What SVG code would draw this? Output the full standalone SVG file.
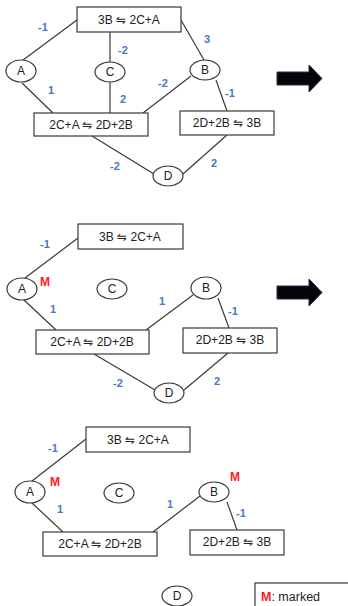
<svg xmlns="http://www.w3.org/2000/svg" width="348" height="606" viewBox="0 0 348 606">
<style>
.bg{fill:#fff}
.box{fill:#fff;stroke:#3a3a3a;stroke-width:1.2}
.nd{fill:#fff;stroke:#3a3a3a;stroke-width:1.2}
.t{font-family:"Liberation Sans","DejaVu Sans",sans-serif;font-size:12px;fill:#222;text-anchor:middle;dominant-baseline:central}
.w{font-family:"Liberation Sans","DejaVu Sans",sans-serif;font-size:11px;font-weight:bold;fill:#4a76c6;text-anchor:middle;dominant-baseline:central}
.m{font-family:"Liberation Sans","DejaVu Sans",sans-serif;font-size:12px;font-weight:bold;fill:#ff1a1a;text-anchor:middle;dominant-baseline:central}
.e{stroke:#3a3a3a;stroke-width:1.2;fill:none}
.arr{fill:#050505;stroke:#1f2d50;stroke-width:1}
</style>
<rect class="bg" x="0" y="0" width="348" height="606"/>

<!-- Panel 1 -->
<g id="p1-edges">
<line class="e" x1="77" y1="20" x2="23" y2="60"/>
<line class="e" x1="110" y1="32" x2="110" y2="62"/>
<line class="e" x1="181" y1="20" x2="204" y2="60"/>
<line class="e" x1="22" y1="83" x2="53" y2="113"/>
<line class="e" x1="110" y1="82" x2="110" y2="113"/>
<line class="e" x1="191" y1="76" x2="143" y2="113"/>
<line class="e" x1="216" y1="80" x2="227" y2="111"/>
<line class="e" x1="92" y1="136" x2="154" y2="174"/>
<line class="e" x1="227" y1="135" x2="183" y2="174"/>
</g>
<g id="p1-weights">
<text class="w" x="43" y="27">-1</text>
<text class="w" x="123" y="50">-2</text>
<text class="w" x="207" y="39">3</text>
<text class="w" x="51" y="90">1</text>
<text class="w" x="123" y="99">2</text>
<text class="w" x="163" y="83">-2</text>
<text class="w" x="230" y="93">-1</text>
<text class="w" x="115" y="166">-2</text>
<text class="w" x="214" y="163">2</text>
</g>
<g id="p1-r1"><rect class="box" x="77" y="7" width="104" height="25"/><text class="t" x="129" y="20">3B ⇋ 2C+A</text></g>
<g id="p1-A"><ellipse class="nd" cx="21" cy="71" rx="15" ry="11"/><text class="t" x="21" y="71">A</text></g>
<g id="p1-C"><ellipse class="nd" cx="110" cy="72" rx="15" ry="10"/><text class="t" x="110" y="72">C</text></g>
<g id="p1-B"><ellipse class="nd" cx="205" cy="70" rx="15" ry="10"/><text class="t" x="205" y="70">B</text></g>
<g id="p1-r2"><rect class="box" x="34" y="113" width="114" height="23"/><text class="t" x="91" y="125">2C+A ⇋ 2D+2B</text></g>
<g id="p1-r3"><rect class="box" x="180" y="111" width="94" height="24"/><text class="t" x="227" y="123">2D+2B ⇋ 3B</text></g>
<g id="p1-D"><ellipse class="nd" cx="168" cy="176" rx="15" ry="10"/><text class="t" x="168" y="176">D</text></g>
<g id="arrow1"><path class="arr" d="M277,72 L309,72 L309,65 L322,78.5 L309,92 L309,85 L277,85 Z"/></g>

<!-- Panel 2 -->
<g id="p2-edges">
<line class="e" x1="78" y1="238" x2="25" y2="278"/>
<line class="e" x1="24" y1="300" x2="56" y2="330"/>
<line class="e" x1="193" y1="295" x2="146" y2="330"/>
<line class="e" x1="218" y1="298" x2="229" y2="328"/>
<line class="e" x1="94" y1="354" x2="155" y2="390"/>
<line class="e" x1="228" y1="353" x2="184" y2="390"/>
</g>
<g id="p2-weights">
<text class="w" x="45" y="244">-1</text>
<text class="w" x="53" y="309">1</text>
<text class="w" x="162" y="301">1</text>
<text class="w" x="233" y="311">-1</text>
<text class="w" x="118" y="383">-2</text>
<text class="w" x="217" y="381">2</text>
</g>
<g id="p2-r1"><rect class="box" x="78" y="224" width="105" height="25"/><text class="t" x="130" y="237">3B ⇋ 2C+A</text></g>
<g id="p2-A"><ellipse class="nd" cx="22" cy="289" rx="15" ry="11"/><text class="t" x="22" y="289">A</text></g>
<text class="m" x="45" y="282">M</text>
<g id="p2-C"><ellipse class="nd" cx="112" cy="289" rx="15" ry="10"/><text class="t" x="112" y="289">C</text></g>
<g id="p2-B"><ellipse class="nd" cx="206" cy="288" rx="15" ry="11"/><text class="t" x="206" y="288">B</text></g>
<g id="p2-r2"><rect class="box" x="36" y="330" width="113" height="24"/><text class="t" x="92" y="342">2C+A ⇋ 2D+2B</text></g>
<g id="p2-r3"><rect class="box" x="183" y="328" width="94" height="25"/><text class="t" x="230" y="340">2D+2B ⇋ 3B</text></g>
<g id="p2-D"><ellipse class="nd" cx="169" cy="393" rx="15" ry="10"/><text class="t" x="169" y="393">D</text></g>
<g id="arrow2"><path class="arr" d="M277,286 L309,286 L309,279 L322,292.5 L309,306 L309,299 L277,299 Z"/></g>

<!-- Panel 3 -->
<g id="p3-edges">
<line class="e" x1="86" y1="439" x2="32" y2="481"/>
<line class="e" x1="32" y1="503" x2="63" y2="532"/>
<line class="e" x1="200" y1="496" x2="153" y2="532"/>
<line class="e" x1="227" y1="502" x2="237" y2="530"/>
</g>
<g id="p3-weights">
<text class="w" x="53" y="448">-1</text>
<text class="w" x="60" y="509">1</text>
<text class="w" x="170" y="504">1</text>
<text class="w" x="241" y="513">-1</text>
</g>
<g id="p3-r1"><rect class="box" x="86" y="427" width="104" height="25"/><text class="t" x="138" y="440">3B ⇋ 2C+A</text></g>
<g id="p3-A"><ellipse class="nd" cx="30" cy="492" rx="15" ry="11"/><text class="t" x="30" y="492">A</text></g>
<text class="m" x="55" y="482">M</text>
<g id="p3-C"><ellipse class="nd" cx="119" cy="493" rx="15" ry="10"/><text class="t" x="119" y="493">C</text></g>
<g id="p3-B"><ellipse class="nd" cx="214" cy="492" rx="15" ry="10"/><text class="t" x="214" y="492">B</text></g>
<text class="m" x="235" y="477">M</text>
<g id="p3-r2"><rect class="box" x="43" y="532" width="114" height="24"/><text class="t" x="100" y="544">2C+A ⇋ 2D+2B</text></g>
<g id="p3-r3"><rect class="box" x="190" y="530" width="94" height="25"/><text class="t" x="237" y="542">2D+2B ⇋ 3B</text></g>
<g id="p3-D"><ellipse class="nd" cx="177" cy="596" rx="15" ry="10"/><text class="t" x="177" y="596">D</text></g>

<g id="legend">
<rect class="box" x="255" y="583" width="100" height="30"/>
<text x="261" y="597" style="font-family:'Liberation Sans','DejaVu Sans',sans-serif;font-size:12.5px;dominant-baseline:central;fill:#222"><tspan style="fill:#ff1a1a;font-weight:bold">M</tspan>: marked</text>
</g>
</svg>
